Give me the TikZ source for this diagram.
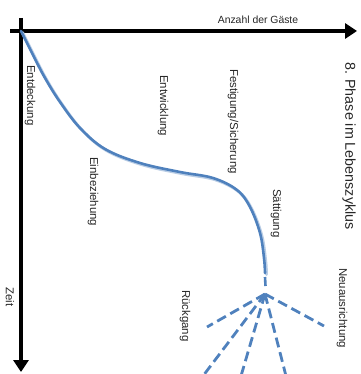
\documentclass[tikz,border=0pt]{standalone}
\usepackage{fontspec}
\setsansfont{Liberation Sans}
\usepackage{tikz}
\usetikzlibrary{arrows.meta}
\definecolor{lcblue}{HTML}{4F81BD}
\definecolor{lcshade}{HTML}{B9CDE5}
\definecolor{lctext}{HTML}{262626}

\begin{document}
\begin{tikzpicture}[
  x=1pt, y=-1pt,
  axis/.style={line width=3.3pt, -{Triangle[length=12pt,width=15pt]}},
  phase/.style={rotate=-90, anchor=west, inner sep=0pt, text=lctext,
                font=\sffamily\fontsize{11.4}{13}\selectfont},
  curve/.style={draw=lcblue, line width=2.6pt, line cap=round},
  branch/.style={draw=lcblue, line width=2.8pt, dash pattern=on 10pt off 5pt}
]
\useasboundingbox (0,0) rectangle (360,374);
\begin{scope}
\clip (0,0) rectangle (360,374);

% Axes
\coordinate (origin) at (21,31);
\coordinate (xend) at (357,31);
\coordinate (yend) at (21,372);
\draw[axis] (10,31) -- (xend);
\draw[axis] (21,18) -- (yend);
\node[text=lctext, font=\sffamily\fontsize{10.4}{12}\selectfont, inner sep=0pt] (gaeste) at (258,20) {Anzahl der Gäste};
\node[phase] (zeit) at (10,287) {Zeit};

% Lifecycle curve
\draw[lcshade, line width=3pt, line cap=round, shift={(1.5,1.5)}]
  plot[smooth, tension=0.6] coordinates {(21,31) (33,55) (45,78) (60,102) (80,128) (105,149)
    (140,163) (180,172) (213,178) (237,190) (250,207) (260,233) (264,258) (265,273)};
\draw[curve]
  plot[smooth, tension=0.6] coordinates {(21,31) (33,55) (45,78) (60,102) (80,128) (105,149)
    (140,163) (180,172) (213,178) (237,190) (250,207) (260,233) (264,258) (265,273)};
\coordinate (hub) at (265,294);
\draw[curve, line cap=butt] (265,277) -- (265.5,286);

% Branches after saturation
\coordinate (rueck) at (207,327);
\coordinate (downa) at (203,376);
\coordinate (downb) at (241,376);
\coordinate (downc) at (286,376);
\coordinate (neu) at (324,326);
\draw[branch] (hub) -- (rueck);
\draw[branch] (hub) -- (downa);
\draw[branch] (hub) -- (downb);
\draw[branch] (hub) -- (downc);
\draw[branch] (hub) -- (neu);
\end{scope}

% Phases
\node[phase] (entdeckung) at (30,65) {Entdeckung};
\node[phase] (einbez) at (93,157) {Einbeziehung};
\node[phase] (entwicklung) at (163,75) {Entwicklung};
\node[phase] (festigung) at (233,69) {Festigung/Sicherung};
\node[phase] (saettigung) at (276,189) {Sättigung};
\node[phase] (rueckgang) at (185,290) {Rückgang};
\node[phase] (neuausr) at (342,268) {Neuausrichtung};
\node[phase, font=\sffamily\fontsize{14.3}{16}\selectfont] (titel) at (349,62) {8. Phase im Lebenszyklus};
\end{tikzpicture}
\end{document}
